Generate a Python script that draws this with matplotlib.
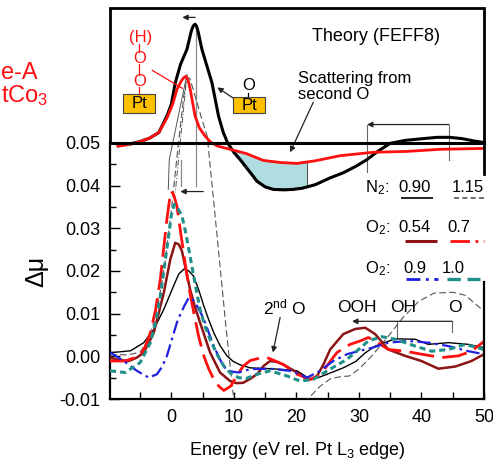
import numpy as np
import matplotlib
matplotlib.use("Agg")
import matplotlib.pyplot as plt
from matplotlib.patches import Rectangle

plt.rcParams['font.family'] = ['Liberation Sans', 'DejaVu Sans']
plt.rcParams['mathtext.fontset'] = 'custom'
plt.rcParams['mathtext.rm'] = 'Liberation Sans'
plt.rcParams['mathtext.it'] = 'Liberation Sans:italic'
plt.rcParams['axes.unicode_minus'] = False

# ---- FEFF8 theory, drawn on the 0.05 baseline ----
e_th_o = [-8.5, -6.5, -5.0, -3.5, -2.0, -0.7, 0.0, 0.64, 1.5, 2.5, 3.2, 3.5, 3.8, 4.05, 4.3,
          4.9, 5.7, 6.5, 7.55, 8.3, 9.0, 10.0, 11.0, 12.6, 13.7, 15.0, 16.3, 18.0, 19.5,
          21.0, 23.0, 25.4, 27.5, 29.5, 31.3, 33.0, 35.0, 37.5, 40.3, 42.5, 44.5, 46.5,
          48.2, 49.9]
mu_th_o = [0.0494, 0.0498, 0.0503, 0.0511, 0.0524, 0.0563, 0.0590, 0.0641, 0.0685, 0.0719,
           0.0762, 0.0774, 0.0778, 0.0773, 0.0760, 0.0719, 0.0680, 0.0641, 0.0563, 0.0525,
           0.0500, 0.0478, 0.0461, 0.0431, 0.0410, 0.0397, 0.0391, 0.0390, 0.0391, 0.0394,
           0.0402, 0.0418, 0.0430, 0.0445, 0.0461, 0.0480, 0.0499, 0.0506, 0.0510, 0.0513,
           0.0513, 0.0510, 0.0505, 0.0501]

e_th_ooh = [-8.5, -6.5, -5.0, -3.5, -2.0, -0.7, 0.2, 0.9, 1.6, 2.0, 2.35, 2.7, 3.04, 3.4,
            3.8, 4.5, 5.4, 6.2, 7.3, 9.4, 12.0, 14.7, 17.5, 20.1, 23.0, 27.0, 32.3, 37.7,
            43.0, 49.9]
mu_th_ooh = [0.0492, 0.0497, 0.0503, 0.0511, 0.0524, 0.0558, 0.0590, 0.0625, 0.0645, 0.0653,
             0.0656, 0.0646, 0.0625, 0.0595, 0.0563, 0.0535, 0.0516, 0.0503, 0.0493, 0.0485,
             0.0475, 0.0459, 0.0454, 0.0452, 0.0458, 0.0470, 0.0478, 0.0480, 0.0485, 0.0487]

# ---- experimental delta-mu curves ----
e_n2_090 = [-9.8, -8.6, -6.5, -4.4, -2.8, -1.2, 0.37, 1.2, 2.08, 2.8, 3.56, 4.4, 5.2, 6.0,
            6.8, 7.8, 8.9, 9.9, 11.0, 12.6, 15.8, 18.0, 20.1, 21.2, 22.2, 23.5, 24.9, 27.5,
            29.5, 31.0, 32.6, 35.8, 39.0, 41.1, 44.3, 47.5, 50.0]
mu_n2_090 = [0.0009, 0.0010, 0.0013, 0.0032, 0.0063, 0.0110, 0.0165, 0.0193, 0.0205, 0.0200,
             0.0188, 0.0155, 0.0118, 0.0085, 0.0055, 0.0025, 0.0001, -0.0012, -0.0020,
             -0.0027, -0.0029, -0.0031, -0.0034, -0.0044, -0.0054, -0.0050, -0.0042,
             -0.0027, -0.0012, 0.0008, 0.0024, 0.0041, 0.0040, 0.0028, 0.0032, 0.0028, 0.0020]

e_n2_115 = [-9.8, -7.0, -5.0, -4.0, -3.0, -2.0, -1.0, 0.0, 1.0, 2.0, 2.5, 3.0, 4.0, 4.8,
            5.75, 6.8, 7.8, 8.8, 9.9, 11.0, 13.0, 16.0, 19.0, 21.7, 23.8, 25.5, 27.0, 28.5,
            30.0, 32.0, 34.7, 37.0, 39.5, 42.0, 45.0, 47.0, 49.0, 50.0]
mu_n2_115 = [0.0005, 0.0003, 0.0010, 0.0030, 0.0070, 0.0130, 0.0220, 0.0340, 0.0480, 0.0610,
             0.0655, 0.0650, 0.0600, 0.0560, 0.0515, 0.0360, 0.0210, 0.0060, -0.0089,
             -0.0110, -0.0140, -0.0150, -0.0130, -0.0102, -0.0070, -0.0052, -0.0048,
             -0.0046, -0.0030, 0.0000, 0.0047, 0.0090, 0.0128, 0.0148, 0.0150, 0.0143,
             0.0118, 0.0105]

e_o2_054 = [-9.8, -8.6, -6.8, -5.5, -4.4, -2.8, -1.2, -0.16, 0.64, 1.2, 1.7, 2.3, 3.0, 3.8,
            4.6, 6.2, 7.8, 9.4, 10.5, 11.5, 12.6, 13.7, 14.8, 15.8, 16.8, 17.9, 20.1, 21.7,
            22.5, 23.3, 24.3, 25.4, 27.5, 29.4, 31.0, 32.6, 34.7, 37.4, 40.0, 42.7, 45.4,
            48.0, 50.0]
mu_o2_054 = [-0.0003, -0.0008, -0.0011, -0.0003, 0.0009, 0.0055, 0.0149, 0.0227, 0.0266,
             0.0262, 0.0247, 0.0205, 0.0157, 0.0115, 0.0079, 0.0009, -0.0038, -0.0058,
             -0.0063, -0.0062, -0.0053, -0.0042, -0.0022, -0.0011, -0.0013, -0.0019,
             -0.0038, -0.0054, -0.0053, -0.0046, -0.0020, 0.0016, 0.0052, 0.0064, 0.0067,
             0.0052, 0.0016, 0.0001, -0.0011, -0.0029, -0.0024, -0.0011, 0.0005]

e_o2_07 = [-9.8, -7.4, -5.0, -4.2, -3.35, -2.5, -1.76, -1.2, -0.7, -0.3, 0.0, 0.4, 0.9, 1.5,
           2.2, 2.9, 3.6, 4.4, 5.2, 6.0, 6.8, 7.6, 8.4, 9.5, 10.5, 11.5, 12.6, 14.2, 15.3,
           16.5, 17.9, 20.1, 22.2, 23.3, 24.3, 25.4, 26.5, 28.6, 30.2, 31.5, 32.6, 34.7,
           37.4, 40.0, 43.2, 45.9, 48.0, 50.0]
mu_o2_07 = [-0.0011, -0.0011, 0.0001, 0.0022, 0.0055, 0.0110, 0.0180, 0.0255, 0.0321, 0.0365,
            0.0387, 0.0378, 0.0352, 0.0290, 0.0219, 0.0155, 0.0102, 0.0045, 0.0001, -0.0030,
            -0.0054, -0.0070, -0.0080, -0.0070, -0.0045, -0.0023, -0.0010, -0.0004, -0.0003,
            -0.0010, -0.0019, -0.0042, -0.0054, -0.0047, -0.0034, -0.0012, 0.0009, 0.0028,
            0.0036, 0.0044, 0.0036, 0.0016, 0.0012, 0.0005, -0.0003, 0.0001, 0.0012, 0.0035]

e_o2_09 = [-9.8, -7.6, -5.5, -3.6, -2.3, -1.5, -0.7, 0.1, 0.9, 1.5, 2.08, 2.77, 3.3, 3.8,
           4.5, 5.2, 6.0, 6.8, 7.8, 8.9, 10.75, 12.6, 15.8, 19.0, 20.5, 21.7, 23.8, 25.9,
           28.1, 29.9, 32.1, 34.7, 37.9, 41.1, 44.3, 47.5, 50.0]
mu_o2_09 = [0.0009, -0.0011, -0.0034, -0.0050, -0.0042, -0.0025, 0.0001, 0.0040, 0.0079,
            0.0100, 0.0118, 0.0137, 0.0135, 0.0126, 0.0108, 0.0087, 0.0055, 0.0024, -0.0008,
            -0.0034, -0.0038, -0.0030, -0.0029, -0.0034, -0.0042, -0.0050, -0.0034, -0.0011,
            0.0005, 0.0012, 0.0020, 0.0032, 0.0036, 0.0032, 0.0024, 0.0012, 0.0005]

e_o2_10 = [-9.8, -7.4, -5.0, -3.35, -2.5, -1.76, -1.1, -0.43, 0.0, 0.48, 1.0, 1.7, 2.3, 3.0,
           3.8, 4.6, 5.4, 6.2, 7.3, 8.4, 9.5, 10.75, 12.0, 13.7, 15.8, 18.5, 20.6, 22.7,
           25.4, 28.1, 29.4, 31.5, 33.7, 35.8, 39.0, 41.6, 44.3, 47.0, 50.0]
mu_o2_10 = [-0.0034, -0.0038, -0.0015, 0.0032, 0.0080, 0.0141, 0.0210, 0.0282, 0.0330,
            0.0356, 0.0348, 0.0329, 0.0290, 0.0235, 0.0170, 0.0110, 0.0070, 0.0040, 0.0005,
            -0.0023, -0.0040, -0.0050, -0.0052, -0.0042, -0.0034, -0.0046, -0.0058, -0.0054,
            -0.0030, -0.0007, 0.0009, 0.0036, 0.0046, 0.0040, 0.0024, 0.0012, 0.0016, 0.0028,
            0.0016]

x_ticks = [0, 10, 20, 30, 40, 50]
y_ticks = [-0.01, 0.00, 0.01, 0.02, 0.03, 0.04, 0.05]

C_DARKRED = '#8c1414'
C_RED = '#ff1010'
C_BLUE = '#2020e0'
C_TEAL = '#1f8f8a'
C_GUIDE = '#8a8a8a'

fig = plt.figure(figsize=(4.93, 4.61), dpi=100)
ax = fig.add_axes([110 / 493, 62 / 461, 374 / 493, 391 / 461])
ax.set_xlim(-9.8, 50)
ax.set_ylim(-0.01, 0.0816)

# axes frame: lower panel uses left/bottom spines, upper panel is a boxed inset
for s in ('top', 'right'):
    ax.spines[s].set_visible(False)
ax.spines['left'].set_bounds(-0.01, 0.05)
ax.spines['left'].set_linewidth(1.6)
ax.spines['bottom'].set_linewidth(1.6)
ax.plot([50, 50], [-0.01, 0.0173], color='black', lw=1.6, clip_on=False, zorder=6)
ax.plot([-9.8, -9.8, 50, 50], [0.05, 0.0816, 0.0816, 0.0426], color='black', lw=2.0,
        clip_on=False, solid_joinstyle='miter', zorder=6)
ax.plot([-9.8, 50], [0.05, 0.05], color='black', lw=2.2, clip_on=False, zorder=6)

ax.set_xticks(x_ticks)
ax.set_xticks([-5, 5, 15, 25, 35, 45], minor=True)
ax.set_yticks(y_ticks)
ax.set_yticks([-0.005, 0.005, 0.015, 0.025, 0.035, 0.045], minor=True)
ax.set_yticklabels(['%.2f' % v for v in y_ticks])
ax.tick_params(which='both', direction='in', width=1.0, labelsize=13, pad=7)
ax.tick_params(axis='y', which='major', length=7)
ax.tick_params(axis='y', which='minor', length=4)
ax.tick_params(axis='x', which='both', length=5)

# guide lines linking the theory features to the measured peaks
ax.plot([3.99, 3.99], [0.0778, 0.0398], color=C_GUIDE, lw=0.9, zorder=1)
ax.plot([1.6, 1.6], [0.0461, 0.0398], color=C_GUIDE, lw=0.9, zorder=1)
ax.plot([2.5, -0.32, -0.48], [0.0660, 0.0461, 0.0391], color='#555555', lw=0.7, zorder=1)
ax.plot([2.5, 0.64], [0.0660, 0.0384], color='#555555', lw=0.7, ls=(0, (6, 2, 1, 2)), zorder=1)

# theory curves and the shaded second-O scattering region
grid = np.linspace(9.3, 21.7, 80)
top = np.interp(grid, e_th_ooh, mu_th_ooh)
bot = np.interp(grid, e_th_o, mu_th_o) + 0.0003
ax.fill_between(grid, bot, top, where=top > bot, facecolor='#b0dde0', edgecolor='#555555',
                lw=0.8, zorder=2)
ax.plot(e_th_o, mu_th_o, color='black', lw=2.2, zorder=4)
ax.plot(e_th_ooh, mu_th_ooh, color=C_RED, lw=2.0, zorder=4)

# experimental curves
ax.plot(e_n2_115, mu_n2_115, color='#555555', lw=0.8, ls=(0, (6, 3)), zorder=3)
ax.plot(e_n2_090, mu_n2_090, color='black', lw=1.0, zorder=3)
ax.plot(e_o2_054, mu_o2_054, color=C_DARKRED, lw=1.8, zorder=3)
ax.plot(e_o2_07, mu_o2_07, color=C_RED, lw=2.0, ls=(0, (9, 3)), zorder=3)
ax.plot(e_o2_09, mu_o2_09, color=C_BLUE, lw=1.6, ls=(0, (6, 2, 1.2, 2)), zorder=3)
ax.plot(e_o2_10, mu_o2_10, color=C_TEAL, lw=2.2, ls=(0, (2, 1.3)), zorder=3)

# adsorbate sketches
ax.add_patch(Rectangle((-7.67, 0.0571), 5.11, 0.0043, facecolor='#ffc000', edgecolor='#444444',
                       lw=0.8, zorder=5))
ax.text(-5.11, 0.0593, 'Pt', fontsize=12, ha='center', va='center', zorder=6)
ax.text(-4.9, 0.0747, '(H)', fontsize=12, color=C_RED, ha='center', va='center')
ax.text(-5.11, 0.0698, 'O', fontsize=12, color=C_RED, ha='center', va='center')
ax.text(-5.11, 0.0644, 'O', fontsize=12, color=C_RED, ha='center', va='center')
for y0, y1 in [(0.0731, 0.0712), (0.0684, 0.0660), (0.0630, 0.0614)]:
    ax.plot([-5.11, -5.11], [y0, y1], color=C_RED, lw=0.9)
ax.plot([-3.04, 1.76], [0.0670, 0.0628], color=C_RED, lw=0.9, zorder=5)

ax.add_patch(Rectangle((9.9, 0.0569), 5.12, 0.0038, facecolor='#ffc000', edgecolor='#444444',
                       lw=0.8, zorder=5))
ax.text(12.46, 0.0588, 'Pt', fontsize=12, ha='center', va='center', zorder=6)
ax.text(12.3, 0.0635, 'O', fontsize=12, ha='center', va='center')
ax.plot([12.3, 12.3], [0.0618, 0.0607], color='black', lw=0.9)

arrow = dict(arrowstyle='-|>', color='#222222', lw=0.9, mutation_scale=8, shrinkA=0, shrinkB=0)
ax.annotate('', xy=(7.35, 0.0630), xytext=(10.2, 0.0602), arrowprops=arrow)
ax.annotate('', xy=(1.76, 0.0794), xytext=(3.83, 0.0794), arrowprops=arrow)
ax.annotate('', xy=(1.44, 0.0386), xytext=(5.11, 0.0386), arrowprops=arrow)
ax.annotate('', xy=(19.0, 0.0478), xytext=(22.7, 0.0595), arrowprops=arrow)
ax.annotate('', xy=(31.3, 0.0543), xytext=(44.4, 0.0543), arrowprops=arrow)
ax.plot([31.3, 31.3], [0.0543, 0.0431], color='#666666', lw=0.8)
ax.plot([44.4, 44.4], [0.0543, 0.0461], color='#666666', lw=0.8)

ax.text(22.5, 0.0749, 'Theory (FEFF8)', fontsize=13, va='center')
ax.text(20.3, 0.0632, 'Scattering from\nsecond O', fontsize=12, va='center', linespacing=1.15)

# series key
key_rows = [
    (0.0396, 0.0370, 'N$_2$:', [(36.3, '0.90', 36.7, 41.9, dict(color='black', lw=1.2)),
                                (44.9, '1.15', 45.2, 50.5, dict(color='#555555', lw=1.2, ls=(0, (3, 2))))]),
    (0.0302, 0.0269, 'O$_2$:', [(36.3, '0.54', 37.4, 42.5, dict(color=C_DARKRED, lw=2.2)),
                                (44.1, '0.7', 44.6, 50.0, dict(color=C_RED, lw=2.0, ls=(0, (7, 2, 1, 2))))]),
    (0.0206, 0.0180, 'O$_2$:', [(37.1, '0.9', 37.5, 42.7, dict(color=C_BLUE, lw=2.0, ls=(0, (5, 2, 1, 2)))),
                                (43.3, '1.0', 44.1, 49.4, dict(color=C_TEAL, lw=2.4, ls=(0, (4, 2))))]),
]
for y_text, y_line, head, items in key_rows:
    ax.text(31.0, y_text, head, fontsize=12, va='center')
    for x_text, label, xa, xb, style in items:
        ax.text(x_text, y_text, label, fontsize=12, va='center')
        ax.plot([xa, xb], [y_line, y_line], clip_on=False, solid_capstyle='butt', **style)

# peak assignments
ax.text(14.7, 0.0115, '2$^{\\rm nd}$ O', fontsize=12.5, va='center')
ax.annotate('', xy=(16.25, 0.0009), xytext=(17.4, 0.0091), arrowprops=arrow)
ax.text(26.5, 0.0115, 'OOH', fontsize=12.5, va='center')
ax.text(35.0, 0.0115, 'OH', fontsize=12.5, va='center')
ax.text(44.2, 0.0115, 'O', fontsize=12.5, va='center')
ax.annotate('', xy=(28.9, 0.0082), xytext=(44.9, 0.0082), arrowprops=arrow)
ax.plot([44.9, 44.9], [0.0082, 0.0056], color='#666666', lw=0.8)
ax.plot([36.1, 36.1], [0.0082, 0.0044], color='#666666', lw=0.8)

ax.set_xlabel('Energy (eV rel. Pt L$_3$ edge)', fontsize=13, labelpad=10)
fig.text(36 / 493, 1 - 271 / 461, 'Δμ', fontsize=18, rotation=90, ha='center', va='center')

fig.text(1 / 493, 1 - 73 / 461, 'e-A', fontsize=17, color=C_RED, ha='left', va='center')
fig.text(1 / 493, 1 - 96 / 461, 'tCo$_3$', fontsize=17, color=C_RED, ha='left', va='center')

fig.savefig('out.png', dpi=100)
